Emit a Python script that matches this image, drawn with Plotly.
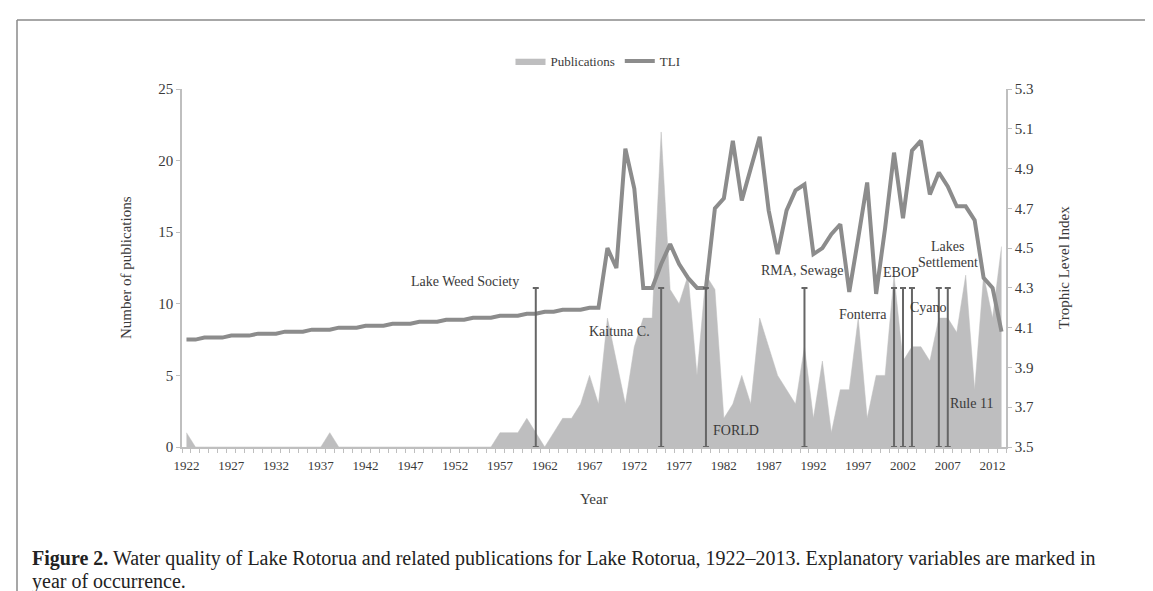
import plotly.graph_objects as go

# ---------------- data ----------------
years = list(range(1922, 2014))

publications = [
    1,                                              # 1922
    0, 0, 0, 0, 0, 0, 0, 0, 0, 0, 0, 0, 0, 0, 0,    # 1923-1937
    1,                                              # 1938
    0, 0, 0, 0, 0, 0, 0, 0, 0, 0, 0, 0, 0, 0, 0, 0, 0, 0,  # 1939-1956
    1, 1, 1, 2, 1, 0, 1, 2, 2, 3,                   # 1957-1966
    5, 3, 9, 6, 3, 7, 9, 9, 22, 11,                 # 1967-1976
    10, 12, 5, 12, 11, 2, 3, 5, 3, 9,               # 1977-1986
    7, 5, 4, 3, 7, 2, 6, 1, 4, 4,                   # 1987-1996
    9, 2, 5, 5, 12, 6, 7, 7, 6, 9,                  # 1997-2006
    9, 8, 12, 4, 12, 9, 14,                         # 2007-2013
]

tli = [
    4.04, 4.04, 4.05, 4.05, 4.05, 4.06, 4.06, 4.06, 4.07, 4.07,   # 1922-1931
    4.07, 4.08, 4.08, 4.08, 4.09, 4.09, 4.09, 4.10, 4.10, 4.10,   # 1932-1941
    4.11, 4.11, 4.11, 4.12, 4.12, 4.12, 4.13, 4.13, 4.13, 4.14,   # 1942-1951
    4.14, 4.14, 4.15, 4.15, 4.15, 4.16, 4.16, 4.16, 4.17, 4.17,   # 1952-1961
    4.18, 4.18, 4.19, 4.19, 4.19, 4.20, 4.20,                     # 1962-1968
    4.50, 4.40, 5.00, 4.80, 4.30, 4.30, 4.42, 4.52, 4.42, 4.35,   # 1969-1978
    4.30, 4.30, 4.70, 4.75, 5.04, 4.74, 4.90, 5.06, 4.69, 4.47,   # 1979-1988
    4.69, 4.79, 4.82, 4.47, 4.50, 4.57, 4.62, 4.28, 4.55, 4.83,   # 1989-1998
    4.27, 4.60, 4.98, 4.65, 4.99, 5.04, 4.77, 4.88, 4.81, 4.71,   # 1999-2008
    4.71, 4.64, 4.35, 4.30, 4.08,                                 # 2009-2013
]

event_years = [1961, 1975, 1980, 1991, 2001, 2002, 2003, 2006, 2007]
event_top = 4.3

# label text, x (year units), y (TLI units), x anchor
event_labels = [
    ("Lake Weed Society", 1959.3, 4.33, "right"),
    ("Kaituna C.", 1970.4, 4.08, "center"),
    ("FORLD", 1983.4, 3.585, "center"),
    ("RMA, Sewage", 1990.7, 4.385, "center"),
    ("Fonterra", 1997.5, 4.165, "center"),
    ("EBOP", 2001.8, 4.375, "center"),
    ("Lakes", 2007.0, 4.51, "center"),
    ("Settlement", 2007.0, 4.43, "center"),
    ("Cyano", 2004.9, 4.20, "center"),
    ("Rule 11", 2009.7, 3.72, "center"),
]

x_tick_years = list(range(1922, 2013, 5))
left_ticks = [0, 5, 10, 15, 20, 25]
right_ticks = [3.5, 3.7, 3.9, 4.1, 4.3, 4.5, 4.7, 4.9, 5.1, 5.3]

# ---------------- layout geometry (pixels) ----------------
W, H = 1153, 591
L, R, T, B = 174, 998, 81, 439


def px(x):
    return (x - L) / (R - L)


def py(y):
    return (B - y) / (B - T)


SERIF = "Liberation Serif, Times New Roman, serif"
TXT = "#3a3a3a"
AXC = "#bfbfbf"

fig = go.Figure()

fig.add_trace(go.Scatter(
    x=years, y=publications, name="Publications", mode="lines",
    fill="tozeroy", fillcolor="#bebebf",
    line=dict(color="#bebebf", width=0.5),
    hoverinfo="x+y",
))

fig.add_trace(go.Scatter(
    x=years, y=tli, name="TLI", yaxis="y2", mode="lines",
    line=dict(color="#8c8c8c", width=4),
))

n = len(event_years)
fig.add_trace(go.Scatter(
    x=event_years, y=[event_top] * n, yaxis="y2", mode="markers",
    marker=dict(size=1, color="rgba(0,0,0,0)"),
    error_y=dict(type="data", symmetric=False, array=[0] * n,
                 arrayminus=[event_top - right_ticks[0]] * n,
                 color="#666666", thickness=2, width=3),
    showlegend=False, hoverinfo="skip",
))

annotations = []
for text, xv, yv, anc in event_labels:
    annotations.append(dict(
        x=xv, y=yv, xref="x", yref="y2", text=text, showarrow=False,
        xanchor=anc, yanchor="middle",
        font=dict(family=SERIF, size=14, color=TXT),
    ))

# axis titles
annotations.append(dict(
    x=px(118), y=py(260), xref="paper", yref="paper",
    text="Number of publications", textangle=-90, showarrow=False,
    xanchor="center", yanchor="middle",
    font=dict(family=SERIF, size=15, color=TXT),
))
annotations.append(dict(
    x=px(1056), y=py(260), xref="paper", yref="paper",
    text="Trophic Level Index", textangle=-90, showarrow=False,
    xanchor="center", yanchor="middle",
    font=dict(family=SERIF, size=15, color=TXT),
))
annotations.append(dict(
    x=px(586), y=py(491), xref="paper", yref="paper",
    text="Year", showarrow=False, xanchor="center", yanchor="middle",
    font=dict(family=SERIF, size=15, color=TXT),
))

# caption
annotations.append(dict(
    x=px(22), y=py(550), xref="paper", yref="paper",
    text="<b>Figure 2.</b> Water quality of Lake Rotorua and related publications for Lake Rotorua, "
         "1922\u20132013. Explanatory variables are marked in",
    showarrow=False, xanchor="left", yanchor="middle",
    font=dict(family=SERIF, size=20, color="#222222"),
))
annotations.append(dict(
    x=px(22), y=py(573), xref="paper", yref="paper",
    text="year of occurrence.",
    showarrow=False, xanchor="left", yanchor="middle",
    font=dict(family=SERIF, size=20, color="#222222"),
))

# frame
shapes = [
    dict(type="line", xref="paper", yref="paper", x0=px(9), x1=px(1145), y0=py(12), y1=py(12),
         line=dict(color="#8a8a8a", width=1.5)),
    dict(type="line", xref="paper", yref="paper", x0=px(9), x1=px(9), y0=py(12), y1=py(600),
         line=dict(color="#8a8a8a", width=1.5)),
    dict(type="line", xref="paper", yref="paper", x0=px(1145), x1=px(1145), y0=py(12), y1=py(522),
         line=dict(color="#8a8a8a", width=1.5)),
]

fig.update_layout(
    width=W, height=H,
    margin=dict(l=L, r=W - R, t=T, b=H - B),
    paper_bgcolor="white", plot_bgcolor="white",
    font=dict(family=SERIF, color=TXT),
    showlegend=True,
    legend=dict(
        orientation="h", x=px(590), xanchor="center", y=py(53), yanchor="middle",
        font=dict(family=SERIF, size=13, color=TXT), itemwidth=30,
        bgcolor="rgba(0,0,0,0)", tracegroupgap=0,
    ),
    xaxis=dict(
        range=[1921.5, 2013.5], tickmode="array", tickvals=x_tick_years,
        ticktext=[str(v) for v in x_tick_years],
        showline=True, linecolor=AXC, linewidth=1.5,
        ticks="outside", ticklen=6, tickcolor="rgba(0,0,0,0)",
        minor=dict(ticks="outside", ticklen=4, tickcolor=AXC, tick0=1921.5, dtick=1, showgrid=False),
        tickfont=dict(family=SERIF, size=13, color=TXT),
        showgrid=False, zeroline=False, fixedrange=True,
    ),
    yaxis=dict(
        range=[0, 25], tickmode="array", tickvals=left_ticks,
        showline=True, linecolor=AXC, linewidth=1.5,
        ticks="outside", ticklen=4, tickcolor=AXC,
        tickfont=dict(family=SERIF, size=15, color=TXT),
        showgrid=False, zeroline=False,
    ),
    yaxis2=dict(
        range=[3.5, 5.3], overlaying="y", side="right", tickmode="array",
        tickvals=right_ticks, ticktext=["%.1f" % v for v in right_ticks],
        showline=True, linecolor=AXC, linewidth=1.5,
        ticks="outside", ticklen=4, tickcolor=AXC,
        tickfont=dict(family=SERIF, size=15, color=TXT),
        showgrid=False, zeroline=False,
    ),
    annotations=annotations,
    shapes=shapes,
)

fig.write_html("out.html")
